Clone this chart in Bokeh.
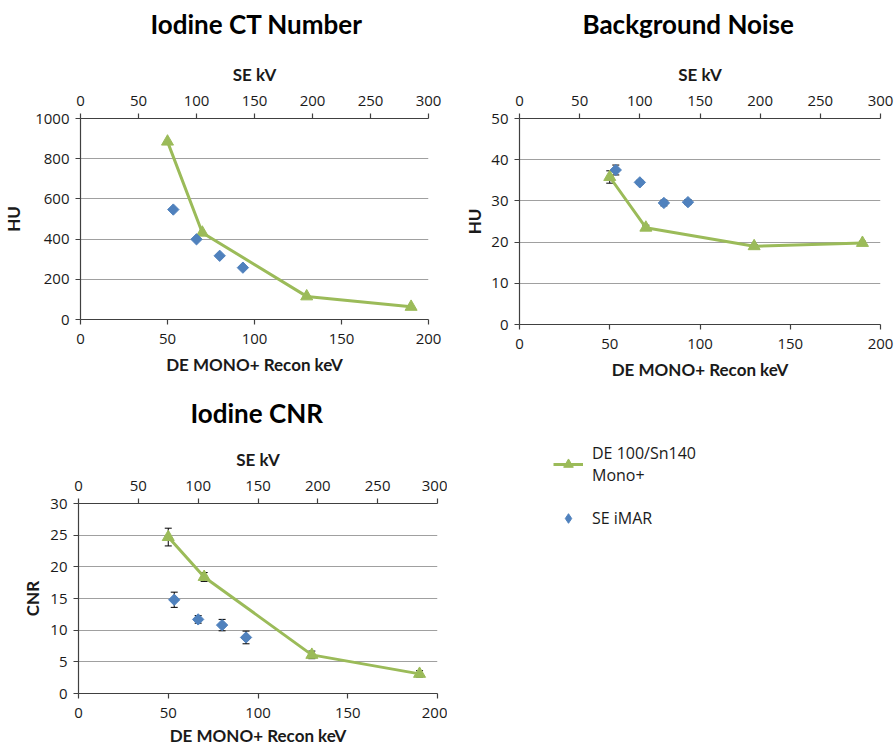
import math
from bokeh.plotting import figure
from bokeh.models import (Range1d, LinearAxis, SingleIntervalTicker, Whisker,
                          ColumnDataSource, Legend, LegendItem, TeeHead, Title)
from bokeh.layouts import column, row
from bokeh.embed import file_html
from bokeh.resources import INLINE

# ---------------- data ----------------
de_kev = [50, 70, 130, 190]          # DE MONO+ recon keV (bottom axis)
se_kv = [80, 100, 120, 140]          # SE kV (top axis)

ct_de = [885, 432, 115, 63]
ct_se = [547, 399, 317, 258]

noise_de = [35.8, 23.5, 19.0, 19.8]
noise_de_err = [1.5, 0.6, 0.4, 0.4]
noise_se = [37.5, 34.5, 29.5, 29.7]
noise_se_err = [1.2, 0.5, 0.7, 0.6]

cnr_de = [24.7, 18.4, 6.1, 3.1]
cnr_de_err = [1.4, 0.7, 0.6, 0.5]
cnr_se = [14.8, 11.7, 10.8, 8.85]
cnr_se_err = [1.2, 0.6, 0.9, 1.0]

titles = ["Iodine CT Number", "Background Noise", "Iodine CNR"]
y_labels = ["HU", "HU", "CNR"]
x_label = "DE MONO+ Recon keV"
top_label = "SE kV"
legend_labels = ["DE 100/Sn140\nMono+", "SE iMAR"]

GREEN = "#9BBB59"
BLUE = "#4F81BD"
AXIS = "#404040"
TXT = "#1a1a1a"
TFONT = "Lato"
NFONT = "Open Sans"
NAN = float("nan")


def style_axis(ax, label_standoff=10, major_standoff=5):
    ax.axis_line_color = AXIS
    ax.axis_line_width = 1.2
    ax.major_tick_line_color = AXIS
    ax.major_tick_line_width = 1.2
    ax.major_tick_out = 5
    ax.major_tick_in = 0
    ax.minor_tick_out = 0
    ax.minor_tick_in = 0
    ax.major_label_text_font = NFONT
    ax.major_label_text_font_size = "15px"
    ax.major_label_text_color = TXT
    ax.major_label_standoff = major_standoff
    ax.axis_label_text_font = TFONT
    ax.axis_label_text_font_style = "bold"
    ax.axis_label_text_font_size = "17px"
    ax.axis_label_text_color = TXT
    ax.axis_label_standoff = label_standoff


def make_panel(title, ylabel, ymax, ystep, de_vals, se_vals, de_err, se_err,
               width, height, bl, br, bt, bb, spacer, title_offset,
               left_label_standoff=8, bottom_label_standoff=7):
    p = figure(width=width, height=height,
               x_range=Range1d(0, 200), y_range=Range1d(0, ymax),
               output_backend="svg", toolbar_location=None,
               min_border_left=bl, min_border_right=br,
               min_border_top=bt, min_border_bottom=bb,
               title=title)
    p.frame_align = False
    p.title.text_font = TFONT
    p.title.text_font_size = "26px"
    p.title.text_font_style = "bold"
    p.title.text_color = "#000000"
    p.title.align = "left"
    p.title.offset = title_offset
    p.title.standoff = 0
    p.outline_line_color = None
    p.background_fill_color = "white"
    p.border_fill_color = "white"

    p.xaxis.ticker = SingleIntervalTicker(interval=50)
    p.xaxis.axis_label = x_label
    p.yaxis.ticker = SingleIntervalTicker(interval=ystep)
    p.yaxis.axis_label = ylabel
    style_axis(p.xaxis[0], label_standoff=bottom_label_standoff, major_standoff=9)
    style_axis(p.yaxis[0], label_standoff=left_label_standoff, major_standoff=6)

    p.xgrid.visible = False
    p.ygrid.ticker = SingleIntervalTicker(interval=ystep)
    p.ygrid.grid_line_color = "#a0a0a0"
    p.ygrid.grid_line_width = 1.2

    p.extra_x_ranges = {"se": Range1d(0, 300)}
    top = LinearAxis(x_range_name="se", axis_label=top_label,
                     ticker=SingleIntervalTicker(interval=50))
    style_axis(top, label_standoff=8, major_standoff=8)
    p.add_layout(top, "above")
    # empty spacer between the top axis and the title
    p.add_layout(Title(text=" ", text_font_size="1px", standoff=spacer), "above")

    # error bars
    if de_err is not None:
        src = ColumnDataSource(dict(x=de_kev,
                                    lo=[v - e for v, e in zip(de_vals, de_err)],
                                    hi=[v + e for v, e in zip(de_vals, de_err)]))
        p.add_layout(Whisker(base="x", lower="lo", upper="hi", source=src,
                             line_color="black", line_width=1,
                             upper_head=TeeHead(size=7, line_color="black", line_width=1),
                             lower_head=TeeHead(size=7, line_color="black", line_width=1),
                             level="underlay"))
    if se_err is not None:
        src = ColumnDataSource(dict(x=se_kv,
                                    lo=[v - e for v, e in zip(se_vals, se_err)],
                                    hi=[v + e for v, e in zip(se_vals, se_err)]))
        p.add_layout(Whisker(base="x", lower="lo", upper="hi", source=src,
                             x_range_name="se",
                             line_color="black", line_width=1,
                             upper_head=TeeHead(size=7, line_color="black", line_width=1),
                             lower_head=TeeHead(size=7, line_color="black", line_width=1),
                             level="underlay"))

    p.line(de_kev, de_vals, line_color=GREEN, line_width=3)
    p.scatter(de_kev, de_vals, marker="triangle", size=12,
              fill_color=GREEN, line_color=GREEN)
    p.scatter(se_kv, se_vals, marker="square", angle=math.pi / 4, size=8,
              fill_color=BLUE, line_color=BLUE, x_range_name="se")
    return p


p1 = make_panel(titles[0], y_labels[0], 1000, 200, ct_de, ct_se, None, None,
                447, 388, 77, 19, 118, 69, 18, 70, left_label_standoff=8)
p2 = make_panel(titles[1], y_labels[1], 50, 10, noise_de, noise_se,
                noise_de_err, noise_se_err,
                447, 388, 72, 14, 118, 64, 18, 63, left_label_standoff=3)
p3 = make_panel(titles[2], y_labels[2], 30, 5, cnr_de, cnr_se,
                cnr_de_err, cnr_se_err,
                447, 360, 78, 10, 115, 53, 14, 112,
                left_label_standoff=4, bottom_label_standoff=4)

# legend panel: a plot whose frame fills its whole canvas; its renderers
# hold no visible points and only supply the legend glyphs
p4 = figure(width=447, height=360, x_range=Range1d(0, 1), y_range=Range1d(0, 1),
            output_backend="svg", toolbar_location=None,
            x_axis_location=None, y_axis_location=None, min_border=0)
p4.frame_align = False
p4.outline_line_color = None
p4.xgrid.visible = False
p4.ygrid.visible = False
r_line = p4.line(x=[NAN], y=[NAN], line_color=GREEN, line_width=3)
r_tri = p4.scatter(x=[NAN], y=[NAN], marker="triangle", size=12,
                   fill_color=GREEN, line_color=GREEN)
r_dia = p4.scatter(x=[NAN], y=[NAN], marker="diamond", size=12,
                   fill_color=BLUE, line_color=BLUE)
legend = Legend(items=[LegendItem(label=legend_labels[0], renderers=[r_line, r_tri]),
                       LegendItem(label=legend_labels[1], renderers=[r_dia])],
                location=(106, 218),
                glyph_width=30, glyph_height=24,
                label_text_font=NFONT, label_text_font_size="16px",
                label_text_color=TXT, label_standoff=9,
                spacing=20, padding=0, margin=0,
                border_line_alpha=0, background_fill_alpha=0)
p4.add_layout(legend)

layout = column(row(p1, p2), row(p3, p4))

with open("out.html", "w") as f:
    f.write(file_html(layout, INLINE))
